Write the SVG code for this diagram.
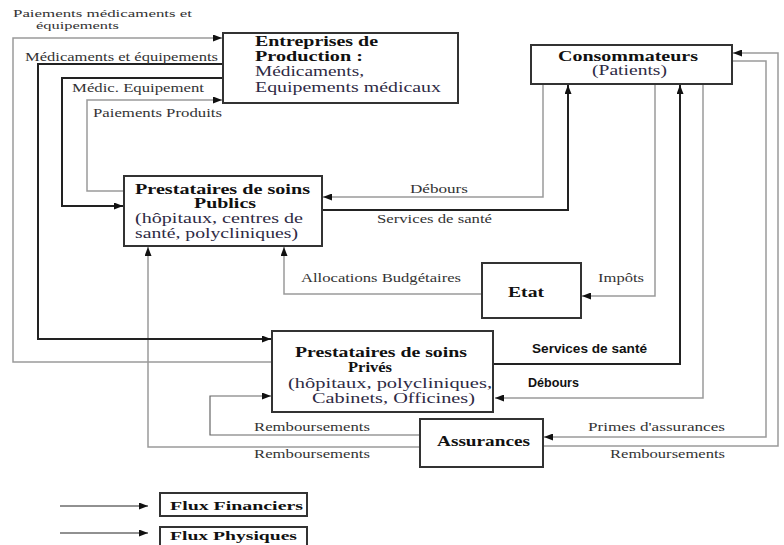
<svg xmlns="http://www.w3.org/2000/svg" width="784" height="545" viewBox="0 0 784 545">
<style>
.box{fill:#fff;stroke:#333;stroke-width:2}
.fin{fill:none;stroke:#9a9a9a;stroke-width:1.5}
.phy{fill:none;stroke:#222;stroke-width:2}
.leg{fill:none;stroke:#222;stroke-width:1}
text{font-family:"Liberation Serif","Times New Roman",serif;fill:#333;lengthAdjust:spacingAndGlyphs}
.lbl{font-size:12px}
.sm{font-size:10.5px}
.t{font-size:14px;font-weight:bold;fill:#111}
.s{font-size:14px;fill:#2e2a44}
.sans{font-family:"Liberation Sans",Arial,sans-serif;font-weight:bold;font-size:13px;fill:#111}
</style>
<defs>
<marker id="ah" markerUnits="userSpaceOnUse" markerWidth="9" markerHeight="7" refX="9" refY="3.5" orient="auto">
<path d="M0,0 L9,3.5 L0,7 z" fill="#111"/>
</marker>
</defs>

<g id="connectors">
<!-- financial flows (grey) -->
<path class="fin" d="M272,362 H13 V38 H222" marker-end="url(#ah)"/>
<path class="fin" d="M124,191 H87 V100 H222" marker-end="url(#ah)"/>
<path class="fin" d="M543,84 V197 H323" marker-end="url(#ah)"/>
<path class="fin" d="M655,84 V296 H582" marker-end="url(#ah)"/>
<path class="fin" d="M482,294 H284 V247" marker-end="url(#ah)"/>
<path class="fin" d="M703,84 V398 H495" marker-end="url(#ah)"/>
<path class="fin" d="M732,61 H766 V437 H544" marker-end="url(#ah)"/>
<path class="fin" d="M543,446 H778 V53 H733" marker-end="url(#ah)"/>
<path class="fin" d="M420,435 H210 V396 H271" marker-end="url(#ah)" style="stroke:#666;stroke-width:1.2"/>
<path class="fin" d="M420,447 H148 V247" marker-end="url(#ah)"/>
<!-- physical flows (black) -->
<path class="phy" d="M223,64 H38 V339 H271" marker-end="url(#ah)"/>
<path class="phy" d="M223,78 H62 V206 H123" marker-end="url(#ah)"/>
<path class="phy" d="M322,210 H568 V85" marker-end="url(#ah)"/>
<path class="phy" d="M494,364 H680 V85" marker-end="url(#ah)"/>
<!-- legend arrows -->
<path class="leg" d="M60,506 H148" marker-end="url(#ah)"/>
<path class="leg" d="M60,533 H148" marker-end="url(#ah)"/>
</g>

<g id="labels">
<text class="sm" x="13" y="17" textLength="179" lengthAdjust="spacingAndGlyphs">Paiements médicaments  et</text>
<text class="sm" x="36" y="29" textLength="83" lengthAdjust="spacingAndGlyphs">équipements</text>
<text class="lbl" x="25" y="61" textLength="193" lengthAdjust="spacingAndGlyphs">Médicaments et équipements</text>
<text class="lbl" x="72" y="92" textLength="132" lengthAdjust="spacingAndGlyphs">Médic. Equipement</text>
<text class="lbl" x="93" y="117" textLength="129" lengthAdjust="spacingAndGlyphs">Paiements Produits</text>
<text class="lbl" x="410" y="193" textLength="58" lengthAdjust="spacingAndGlyphs">Débours</text>
<text class="lbl" x="377" y="223" textLength="115" lengthAdjust="spacingAndGlyphs">Services de santé</text>
<text class="lbl" x="301" y="282" textLength="160" lengthAdjust="spacingAndGlyphs">Allocations Budgétaires</text>
<text class="lbl" x="598" y="282" textLength="46" lengthAdjust="spacingAndGlyphs">Impôts</text>
<text class="sans" x="532" y="353" textLength="115" lengthAdjust="spacingAndGlyphs">Services de santé</text>
<text class="sans" x="528" y="387" textLength="51" lengthAdjust="spacingAndGlyphs">Débours</text>
<text class="lbl" x="588" y="431" textLength="137" lengthAdjust="spacingAndGlyphs">Primes d'assurances</text>
<text class="lbl" x="610" y="458" textLength="115" lengthAdjust="spacingAndGlyphs">Remboursements</text>
<text class="lbl" x="254" y="431" textLength="116" lengthAdjust="spacingAndGlyphs">Remboursements</text>
<text class="lbl" x="254" y="458" textLength="116" lengthAdjust="spacingAndGlyphs">Remboursements</text>
</g>

<g id="entreprises">
<rect class="box" x="223" y="33" width="235" height="70"/>
<text class="t" x="255" y="46" textLength="123" lengthAdjust="spacingAndGlyphs">Entreprises de</text>
<text class="t" x="255" y="61" textLength="108" lengthAdjust="spacingAndGlyphs">Production :</text>
<text class="s" x="255" y="76" textLength="109" lengthAdjust="spacingAndGlyphs">Médicaments,</text>
<text class="s" x="255" y="92" textLength="186" lengthAdjust="spacingAndGlyphs">Equipements médicaux</text>
</g>

<g id="consommateurs">
<rect class="box" x="531" y="45" width="201" height="39"/>
<text class="t" x="558" y="61" textLength="140" lengthAdjust="spacingAndGlyphs">Consommateurs</text>
<text class="s" x="592" y="75" textLength="75" lengthAdjust="spacingAndGlyphs">(Patients)</text>
</g>

<g id="publics">
<rect class="box" x="124" y="176" width="198" height="70"/>
<text class="t" x="135" y="194" textLength="175" lengthAdjust="spacingAndGlyphs">Prestataires  de soins</text>
<text class="t" x="194" y="208" textLength="62" lengthAdjust="spacingAndGlyphs">Publics</text>
<text class="s" x="135" y="223" textLength="168" lengthAdjust="spacingAndGlyphs">(hôpitaux, centres de</text>
<text class="s" x="135" y="238" textLength="163" lengthAdjust="spacingAndGlyphs">santé, polycliniques)</text>
</g>

<g id="etat">
<rect class="box" x="482" y="263" width="99" height="55"/>
<text class="t" x="508" y="297" textLength="36" lengthAdjust="spacingAndGlyphs">Etat</text>
</g>

<g id="prives">
<rect class="box" x="272" y="331" width="221" height="81"/>
<text class="t" x="295" y="357" textLength="172" lengthAdjust="spacingAndGlyphs">Prestataires de soins</text>
<text class="t" x="348" y="372" textLength="44" lengthAdjust="spacingAndGlyphs">Privés</text>
<text class="s" x="288" y="388" textLength="204" lengthAdjust="spacingAndGlyphs">(hôpitaux, polycliniques,</text>
<text class="s" x="312" y="403" textLength="163" lengthAdjust="spacingAndGlyphs">Cabinets, Officines)</text>
</g>

<g id="assurances">
<rect class="box" x="420" y="419" width="123" height="48"/>
<text class="t" x="437" y="446" textLength="93" lengthAdjust="spacingAndGlyphs">Assurances</text>
</g>

<g id="legend-financiers">
<rect class="box" x="160" y="493" width="147" height="23"/>
<text class="t" x="170" y="510" style="font-size:13px" textLength="133" lengthAdjust="spacingAndGlyphs">Flux Financiers</text>
</g>
<g id="legend-physiques">
<rect class="box" x="160" y="527" width="147" height="25"/>
<text class="t" x="170" y="540" style="font-size:13px" textLength="127" lengthAdjust="spacingAndGlyphs">Flux Physiques</text>
</g>
</svg>
